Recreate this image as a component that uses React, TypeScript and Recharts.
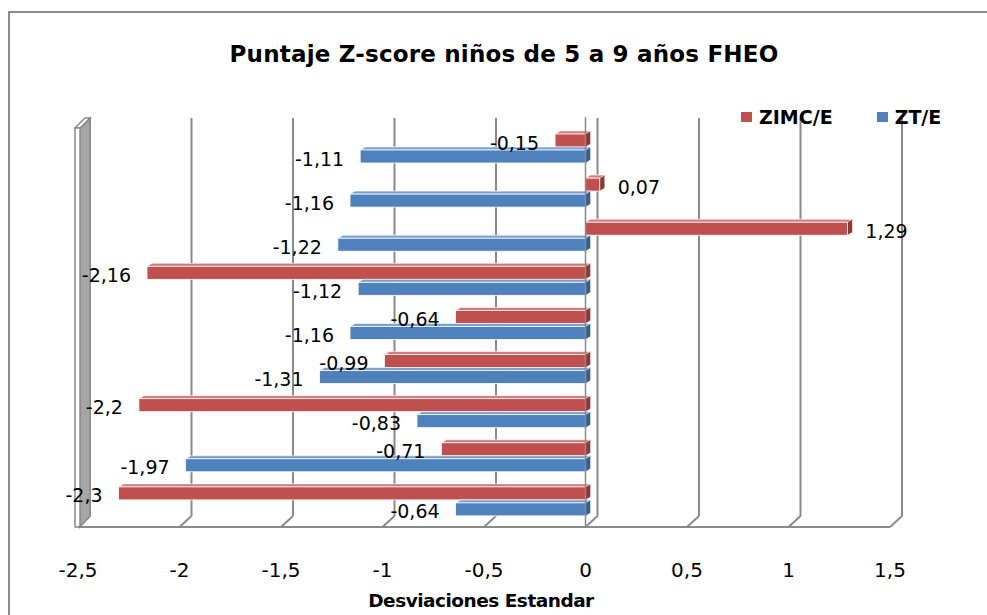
import React from 'react';
import { BarChart, Bar, XAxis, YAxis, CartesianGrid, LabelList, Legend, ReferenceLine } from 'recharts';

const categories = ['G1', 'G2', 'G3', 'G4', 'G5', 'G6', 'G7', 'G8', 'G9'];
const zimcValues = [-0.15, 0.07, 1.29, -2.16, -0.64, -0.99, -2.2, -0.71, -2.3];
const ztValues = [-1.11, -1.16, -1.22, -1.12, -1.16, -1.31, -0.83, -1.97, -0.64];
const xTicks = [-2.5, -2, -1.5, -1, -0.5, 0, 0.5, 1, 1.5];
const seriesNames = ['ZIMC/E', 'ZT/E'];
const chartTitle = 'Puntaje Z-score niños de 5 a 9 años FHEO';
const axisTitle = 'Desviaciones Estandar';

const data = categories.map((c, i) => ({ cat: c, zimc: zimcValues[i], zt: ztValues[i] }));

const RED = { front: '#C0504D', top: '#D27A77', side: '#8C3836' };
const BLUE = { front: '#4F81BD', top: '#7BA0D0', side: '#365F91' };
const GRID = '#8a8a8a';
const DX = 12;
const DY = 11;
const FONT = '"DejaVu Sans", sans-serif';

const fmt = (v: number) => String(v).replace('.', ',');

const makeShape = (c: { front: string; top: string; side: string }) => (props: any) => {
  const x = Number(props.x), y = Number(props.y), width = Number(props.width), height = Number(props.height);
  if (!isFinite(x) || !isFinite(width)) return null;
  const left = Math.min(x, x + width);
  const w = Math.abs(width);
  const d = 5, e = 3;
  return (
    <g>
      <polygon points={`${left},${y} ${left + d},${y - e} ${left + w + d},${y - e} ${left + w},${y}`} fill={c.top} stroke="#fff" strokeWidth={0.6} />
      <polygon points={`${left + w},${y} ${left + w + d},${y - e} ${left + w + d},${y + height - e} ${left + w},${y + height}`} fill={c.side} stroke="#fff" strokeWidth={0.4} />
      <rect x={left} y={y} width={w} height={height} fill={c.front} stroke="#fff" strokeWidth={0.8} />
    </g>
  );
};

const renderLabel = (props: any) => {
  const x = Number(props.x), y = Number(props.y), width = Number(props.width), height = Number(props.height);
  const value = Number(props.value);
  const neg = value < 0;
  const tx = neg ? Math.min(x, x + width) - 16 : Math.max(x, x + width) + 18;
  return (
    <text x={tx} y={y + height / 2 + 2} textAnchor={neg ? 'end' : 'start'} dominantBaseline="central"
      fontFamily={FONT} fontSize={19} fill="#000">{fmt(value)}</text>
  );
};

const gridLine = (props: any) => {
  const x1 = Number(props.x1);
  const yTop = Math.min(Number(props.y1), Number(props.y2));
  const yBot = Math.max(Number(props.y1), Number(props.y2));
  const bx = x1 + DX;
  return (
    <g key={props.key}>
      <line x1={bx} y1={yTop - 8} x2={bx} y2={yBot - DY} stroke={GRID} strokeWidth={2} />
      <line x1={bx} y1={yBot - DY} x2={x1} y2={yBot} stroke={GRID} strokeWidth={2} />
    </g>
  );
};

const wallShape = (props: any) => {
  const x = Number(props.x1);
  const top = Math.min(Number(props.y1), Number(props.y2));
  const bot = Math.max(Number(props.y1), Number(props.y2));
  return (
    <g>
      <polygon points={`${x + 2},${top + 2} ${x + DX},${top - 8} ${x + DX},${bot - DY} ${x + 2},${bot}`} fill="#a6a6a6" stroke={GRID} strokeWidth={1.5} />
      <polygon points={`${x - 3},${top + 2} ${x + 7},${top - 8} ${x + DX},${top - 8} ${x + 2},${top + 2}`} fill="#fff" stroke={GRID} strokeWidth={1.5} />
      <rect x={x - 3} y={top + 2} width={5} height={bot - top - 2} fill="#fff" stroke={GRID} strokeWidth={1.5} />
    </g>
  );
};

const zeroShape = (props: any) => {
  const x = Number(props.x1);
  const top = Math.min(Number(props.y1), Number(props.y2));
  const bot = Math.max(Number(props.y1), Number(props.y2));
  return <line x1={x} y1={top - 9} x2={x} y2={bot} stroke={GRID} strokeWidth={1.5} />;
};

const renderAxisTitle = (props: any) => {
  const vb = props.viewBox || {};
  return (
    <text x={vb.x + vb.width / 2 - 3} y={vb.y + 80} textAnchor="middle" fontFamily={FONT} fontWeight="bold"
      fontSize={18.5} letterSpacing={-0.5} fill="#000">{axisTitle}</text>
  );
};

const renderLegend = (props: any) => {
  const payload = props.payload || [];
  return (
    <div style={{ display: 'flex', alignItems: 'center', fontFamily: FONT, fontWeight: 'bold', fontSize: 19, lineHeight: '20px', color: '#000', whiteSpace: 'nowrap' }}>
      {payload.map((p: any, i: number) => (
        <div key={i} style={{ display: 'flex', alignItems: 'center', marginRight: i === 0 ? 44 : 0 }}>
          <span style={{ display: 'inline-block', width: 11, height: 10, background: p.color, marginRight: 7 }} />
          <span>{p.value}</span>
        </div>
      ))}
    </div>
  );
};

export default function App() {
  return (
    <div style={{ position: 'absolute', left: 0, top: 0, width: 987, height: 615, overflow: 'hidden', background: '#fff' }}>
      <div style={{ position: 'absolute', left: 8, top: 11, width: 1000, height: 700, border: '2px solid #8c8c8c', boxSizing: 'border-box' }} />
      <div style={{ position: 'absolute', left: 0, top: 40, width: 1008, textAlign: 'center', fontFamily: FONT, fontWeight: 'bold', fontSize: 23, lineHeight: '28px', letterSpacing: 0.2, color: '#000', whiteSpace: 'nowrap' }}>
        {chartTitle}
      </div>
      <div style={{ position: 'absolute', left: 0, top: 0 }}>
        <BarChart width={987} height={615} data={data} layout="vertical" barSize={13} barGap={3}
          margin={{ top: 126, right: 97, bottom: 28, left: 78 }}>
          <CartesianGrid horizontal={false} vertical={gridLine} stroke={GRID} />
          <XAxis type="number" domain={[-2.5, 1.5]} ticks={xTicks} interval={0} allowDataOverflow
            tickFormatter={fmt} height={60} tickSize={0} tickMargin={36} tickLine={false}
            axisLine={{ stroke: GRID, strokeWidth: 2 }}
            tick={{ fontFamily: FONT, fontSize: 20, fill: '#000' }}
            label={{ content: renderAxisTitle } as any} />
          <YAxis type="category" dataKey="cat" hide padding={{ top: 0, bottom: 4 }} />
          <ReferenceLine x={0} shape={zeroShape} />
          <ReferenceLine x={-2.5} shape={wallShape} />
          <Legend layout="vertical" align="center" verticalAlign="middle" content={renderLegend}
            wrapperStyle={{ position: 'absolute', top: 107, left: 741, width: 'auto', height: 'auto' }} />
          <Bar dataKey="zimc" name={seriesNames[0]} fill={RED.front} shape={makeShape(RED)} isAnimationActive={false}>
            <LabelList dataKey="zimc" content={renderLabel} />
          </Bar>
          <Bar dataKey="zt" name={seriesNames[1]} fill={BLUE.front} shape={makeShape(BLUE)} isAnimationActive={false}>
            <LabelList dataKey="zt" content={renderLabel} />
          </Bar>
        </BarChart>
      </div>
    </div>
  );
}
